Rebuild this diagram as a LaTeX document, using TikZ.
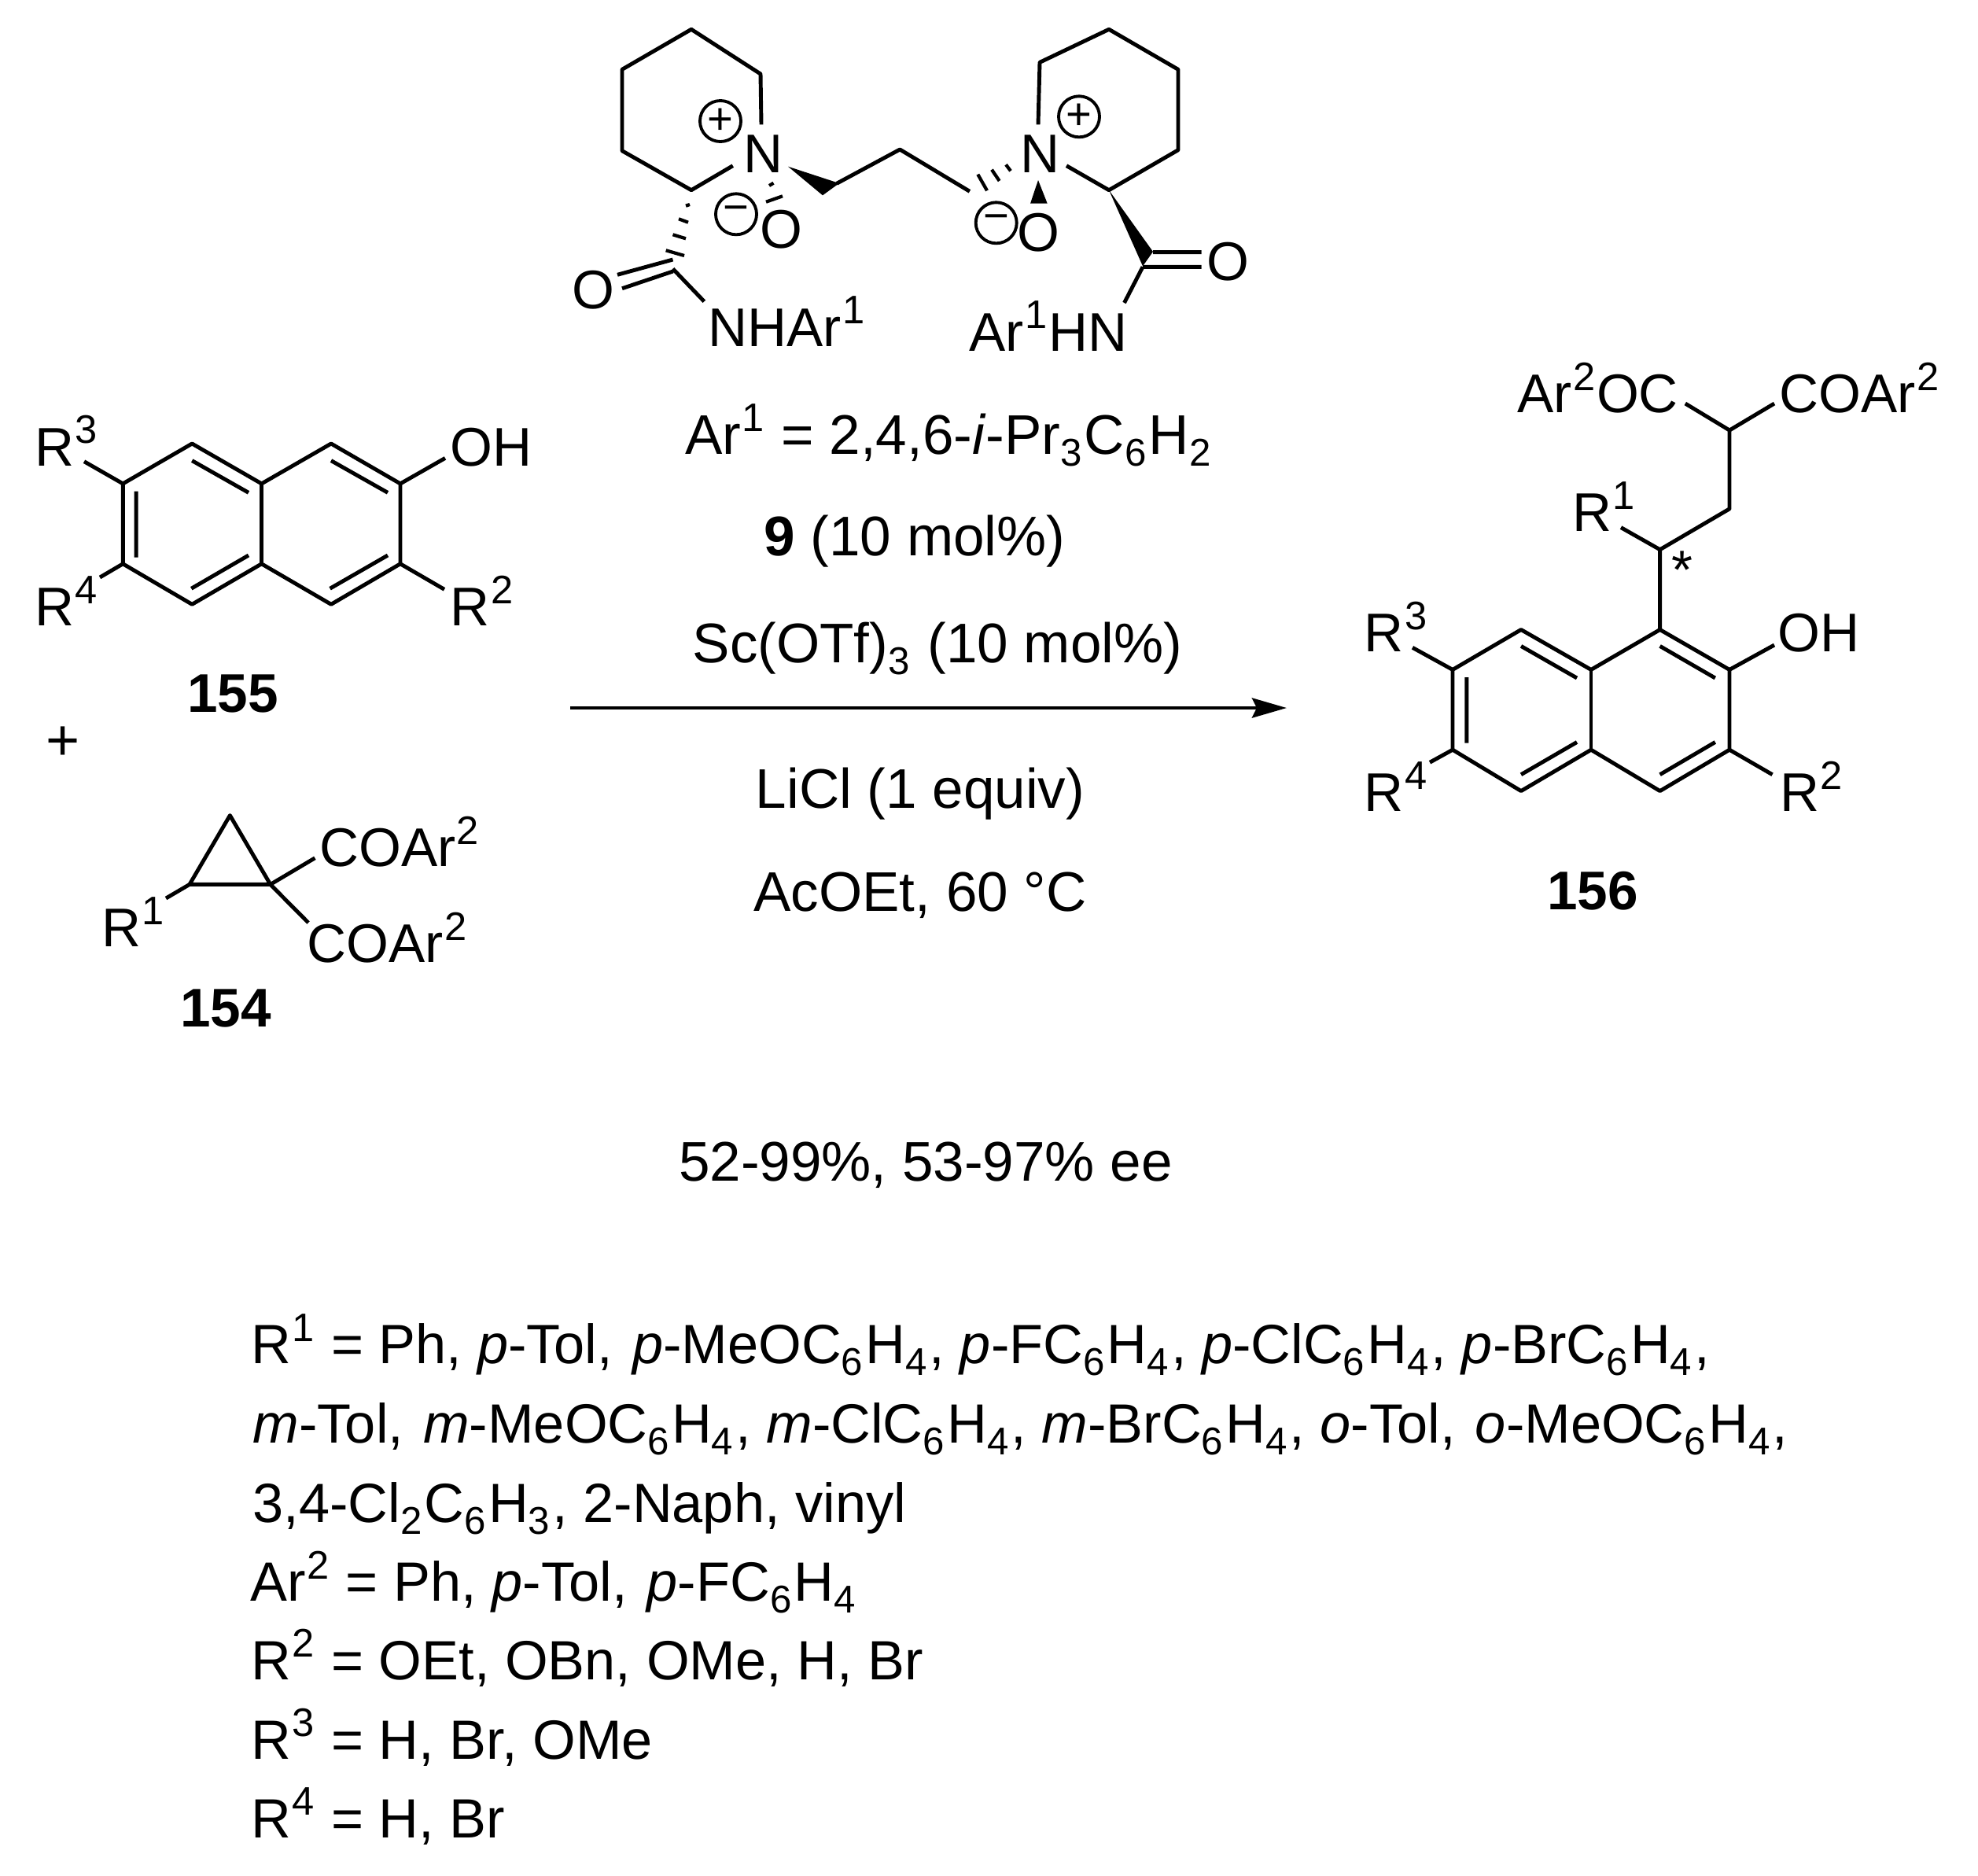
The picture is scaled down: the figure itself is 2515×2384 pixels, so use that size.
\documentclass[tikz,border=0pt]{standalone}
\usepackage{fontspec}
\setmainfont{Liberation Sans}
\usetikzlibrary{arrows.meta}
\newcommand{\supx}[1]{\kern0.4pt\raisebox{8pt}{\fontsize{14.4}{14.4}\selectfont #1}\kern0.5pt\relax}
\newcommand{\subx}[1]{\raisebox{-4.3pt}{\fontsize{14}{14}\selectfont #1}\kern0.9pt\relax}
\newcommand{\ital}[1]{\textit{#1}}
\newcommand{\wsp}{\hspace{1.6pt}}
\tikzset{
  bond/.style={line width=1.4pt,line join=round},
  inner/.style={line width=1.4pt},
  hash/.style={line width=1.2pt},
  wedge/.style={fill=black,draw=none},
  lab/.style={anchor=base west,inner sep=0pt,font=\fontsize{19.7}{19.7}\selectfont},
  cen/.style={anchor=base,inner sep=0pt,font=\fontsize{20.2}{20.2}\selectfont},
  lst/.style={anchor=base west,inner sep=0pt,font=\fontsize{20}{20}\selectfont},
  atom/.style={anchor=center,inner sep=0pt,font=\fontsize{19.7}{19.7}\selectfont},
  num/.style={anchor=base,inner sep=0pt,font=\fontsize{19.7}{19.7}\selectfont\bfseries},
  chg/.style={circle,draw,line width=1.1pt,minimum size=0.52cm,inner sep=0pt,font=\fontsize{16}{16}\selectfont},
  rxn/.style={line width=1.4pt,-{Stealth[length=0.44cm,width=0.25cm,inset=0.06cm]}}
}
\begin{document}
\begin{tikzpicture}[x=0.01cm,y=-0.01cm]
\useasboundingbox (0,0) rectangle (2515,2384);
% ---------- 155
\coordinate (a1) at (156.3,614.9);
\coordinate (a2) at (244.2,564);
\coordinate (a3) at (332.6,614.9);
\coordinate (a4) at (421,564);
\coordinate (a5) at (509,614.9);
\coordinate (a6) at (509,716.8);
\coordinate (a7) at (421,768.3);
\coordinate (a8) at (332.6,716.8);
\coordinate (a9) at (244.2,768.3);
\coordinate (a10) at (156.3,716.8);
\coordinate (aR3) at (107,586.7);
\coordinate (aR4) at (127,734);
\coordinate (aOH) at (566,582.4);
\coordinate (aR2) at (565,749.3);
\draw[bond] (a1)--(a2)--(a3)--(a4)--(a5)--(a6)--(a7)--(a8)--(a9)--(a10)--cycle;
\draw[bond] (a3)--(a8);
\draw[bond] (a1)--(aR3) (a10)--(aR4) (a5)--(aOH) (a6)--(aR2);
\coordinate (ai1) at (244.2,585.6); \coordinate (ai2) at (316,626.3);
\coordinate (ai3) at (421,585.6); \coordinate (ai4) at (493,626.3);
\coordinate (ai5) at (173.2,624.7); \coordinate (ai6) at (173.2,708.7);
\coordinate (ai7) at (243.3,748.2); \coordinate (ai8) at (316,706);
\coordinate (ai9) at (419.6,748.2); \coordinate (ai10) at (493,706);
\draw[inner] (ai1)--(ai2) (ai3)--(ai4) (ai5)--(ai6) (ai7)--(ai8) (ai9)--(ai10);
\node[lab] (tR3) at (43.8,592) {R\supx{3}};
\node[lab] (tR4) at (43.8,795.4) {R\supx{4}};
\node[lab] (tOH) at (571.7,592) {OH};
\node[lab] (tR2) at (572,795.4) {R\supx{2}};
\node[num] (n155) at (295.8,905.4) {155};
\node[atom,font=\fontsize{21}{21}\selectfont] (plus) at (80,945) {+};
% ---------- 154
\coordinate (c1) at (292.4,1036.6);
\coordinate (c2) at (241,1124.4);
\coordinate (c3) at (343.8,1124.4);
\coordinate (cR1) at (211,1142);
\coordinate (cU) at (400.4,1090.8);
\coordinate (cL) at (392,1173);
\draw[bond] (c1)--(c2)--(c3)--cycle;
\draw[bond] (c2)--(cR1) (c3)--(cU) (c3)--(cL);
\node[lab] (tCOu) at (405.5,1101.6) {COAr\supx{2}};
\node[lab] (tCOl) at (390,1223.6) {COAr\supx{2}};
\node[lab] (tR1) at (128.6,1203.5) {R\supx{1}};
\node[num] (n154) at (287,1305) {154};
% ---------- catalyst, left half
\coordinate (l1) at (879,37.3);
\coordinate (l2) at (791,88.3);
\coordinate (l3) at (791,191.7);
\coordinate (l4) at (879,241.7);
\coordinate (l5) at (931.8,210.7);
\coordinate (l6) at (967,94);
\coordinate (l7) at (968,158.3);
\draw[bond] (l7)--(l6)--(l1)--(l2)--(l3)--(l4)--(l5);
\node[lab] (NL) at (944.4,219.3) {N};
\node[chg] (pL) at (916,154) {+};
\node[chg] (mL) at (936,272.3) {−};
\node[atom] (OL) at (993,292) {O};
\draw[hash] (978,236)--(983.5,232.7) (974,256.7)--(995,249.3);
\coordinate (w1) at (1002,211.7);
\coordinate (w2) at (1046,248.3);
\coordinate (w3) at (1067,233);
\fill[wedge] (w1)--(w2)--(w3)--cycle;
\coordinate (ch1) at (1063.8,233.3);
\coordinate (ch2) at (1144.2,190);
\coordinate (ch3) at (1232.9,243.3);
\draw[bond] (ch1)--(ch2)--(ch3);
\draw[hash] (1243.3,221.7)--(1255,242.3) (1261,215.7)--(1270.7,230) (1279,209.3)--(1285,217.3);
\draw[hash] (872,261.7)--(877,260) (863,278.3)--(875,282.7) (855.5,298.3)--(872,303.3) (846.7,318.3)--(870,325);
\coordinate (k1) at (855.5,330); \coordinate (k2) at (785,349.3);
\coordinate (k3) at (855.5,345); \coordinate (k4) at (791,366.7);
\coordinate (k5) at (855.5,341.7); \coordinate (k6) at (895.4,383.3);
\draw[bond] (k1)--(k2) (k3)--(k4) (k5)--(k6);
\node[atom] (OcL) at (754,369) {O};
\node[lab] (NH) at (900,440) {NHAr\supx{1}};
% ---------- catalyst, right half
\coordinate (r1) at (1410,37.3);
\coordinate (r2) at (1322,79.3);
\coordinate (r3) at (1320,158.3);
\coordinate (r4) at (1498,88.3);
\coordinate (r5) at (1498,190.7);
\coordinate (r6) at (1410,241.7);
\coordinate (r7) at (1356,210.7);
\draw[bond] (r3)--(r2)--(r1)--(r4)--(r5)--(r6)--(r7);
\node[lab] (NR) at (1296.5,219.3) {N};
\node[chg] (pR) at (1372,148.3) {+};
\node[chg] (mR) at (1266.7,283.3) {−};
\node[atom] (OR) at (1320,296) {O};
\coordinate (v1) at (1320,229);
\coordinate (v2) at (1310,258.7);
\coordinate (v3) at (1331.7,258.7);
\fill[wedge] (v1)--(v2)--(v3)--cycle;
\coordinate (u2) at (1466,320);
\coordinate (u3) at (1453,338.3);
\fill[wedge] (r6)--(u2)--(u3)--cycle;
\coordinate (d1) at (1466,320.7); \coordinate (d2) at (1527.5,320.7);
\coordinate (d3) at (1453,339.3); \coordinate (d4) at (1527.5,339.3);
\coordinate (d5) at (1429.5,385);
\draw[bond] (d1)--(d2) (d3)--(d4) (d3)--(d5);
\node[atom] (OcR) at (1561,333) {O};
\node[lab] (HN) at (1231.9,446) {Ar\supx{1}HN};
% ---------- conditions
\node[cen] (t1) at (1207,577) {Ar\supx{1} = 2,4,6-\ital{i}-Pr\subx{3}C\subx{6}H\subx{2}};
\node[cen] (t2) at (1163,706) {\textbf{9} (10 mol\%)};
\node[cen] (t3) at (1192,842) {Sc(OTf)\subx{3} (10 mol\%)};
\coordinate (arS) at (725,900);
\coordinate (arE) at (1636,900);
\draw[rxn] (arS)--(arE);
\node[cen] (t4) at (1170,1027) {LiCl (1 equiv)};
\node[cen] (t5) at (1170,1158) {AcOEt, 60 °C};
\node[cen] (t6) at (1177,1501) {52-99\%, 53-97\% ee};
% ---------- 156
\coordinate (p1) at (1847,851.4);
\coordinate (p2) at (1934,800.5);
\coordinate (p3) at (2023,851.4);
\coordinate (p4) at (2110.6,800.5);
\coordinate (p5) at (2199,851.4);
\coordinate (p6) at (2199,953.2);
\coordinate (p7) at (2110.6,1005.6);
\coordinate (p8) at (2023,953.2);
\coordinate (p9) at (1934,1005.6);
\coordinate (p10) at (1847,953.2);
\draw[bond] (p1)--(p2)--(p3)--(p4)--(p5)--(p6)--(p7)--(p8)--(p9)--(p10)--cycle;
\draw[bond] (p3)--(p8);
\coordinate (pi1) at (1934,821.4); \coordinate (pi2) at (2005,862);
\coordinate (pi3) at (2110.6,821.4); \coordinate (pi4) at (2180.8,862);
\coordinate (pi5) at (1864.8,861); \coordinate (pi6) at (1864.8,944.5);
\coordinate (pi7) at (1934,984.7); \coordinate (pi8) at (2005,943.5);
\coordinate (pi9) at (2110.6,984.7); \coordinate (pi10) at (2180.8,943.5);
\draw[inner] (pi1)--(pi2) (pi3)--(pi4) (pi5)--(pi6) (pi7)--(pi8) (pi9)--(pi10);
\coordinate (pR3) at (1796,823.3);
\coordinate (pR4) at (1818,969.2);
\coordinate (pOH) at (2256,820);
\coordinate (pR2) at (2253.5,984.7);
\draw[bond] (p1)--(pR3) (p10)--(pR4) (p5)--(pOH) (p6)--(pR2);
\coordinate (q1) at (2110.6,698.7);
\coordinate (q2) at (2199,646.9);
\coordinate (q3) at (2199,547);
\coordinate (q4) at (2142.8,513);
\coordinate (q5) at (2256,513);
\coordinate (q6) at (2061,670.6);
\draw[bond] (p4)--(q1)--(q2)--(q3)--(q4) (q3)--(q5) (q1)--(q6);
\node[lab] (tA) at (1928.7,524.2) {Ar\supx{2}OC};
\node[lab] (tB) at (2262,524.2) {COAr\supx{2}};
\node[lab] (pt1) at (1998.5,675.5) {R\supx{1}};
\node[atom] (star) at (2139,725) {*};
\node[lab] (pt3) at (1734,828.6) {R\supx{3}};
\node[lab] (pt4) at (1734,1031.7) {R\supx{4}};
\node[lab] (pt5) at (2260,828.6) {OH};
\node[lab] (pt2) at (2262.5,1031.7) {R\supx{2}};
\node[num] (n156) at (2025,1156.8) {156};
% ---------- substituent list
\node[lst] (L1) at (319,1733.5) {R\supx{1} = Ph, \ital{p}-Tol,\wsp{} \ital{p}-MeOC\subx{6}H\subx{4}, \ital{p}-FC\subx{6}H\subx{4}, \ital{p}-ClC\subx{6}H\subx{4}, \ital{p}-BrC\subx{6}H\subx{4},};
\node[lst] (L2) at (321,1834.5) {\ital{m}-Tol,\wsp{} \ital{m}-MeOC\subx{6}H\subx{4}, \ital{m}-ClC\subx{6}H\subx{4}, \ital{m}-BrC\subx{6}H\subx{4}, \ital{o}-Tol,\wsp{} \ital{o}-MeOC\subx{6}H\subx{4},};
\node[lst] (L3) at (321,1935.5) {3,4-Cl\subx{2}C\subx{6}H\subx{3}, 2-Naph, vinyl};
\node[lst] (L4) at (318,2035.6) {Ar\supx{2} = Ph, \ital{p}-Tol,\wsp{} \ital{p}-FC\subx{6}H\subx{4}};
\node[lst] (L5) at (319,2135) {R\supx{2} = OEt, OBn, OMe, H, Br};
\node[lst] (L6) at (319,2236) {R\supx{3} = H, Br, OMe};
\node[lst] (L7) at (319,2336) {R\supx{4} = H, Br};
\end{tikzpicture}
\end{document}
